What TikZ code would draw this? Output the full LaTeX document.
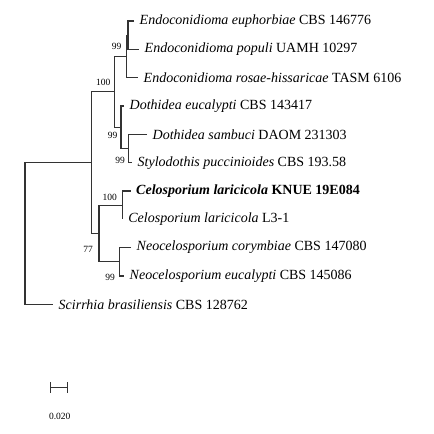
\documentclass[tikz,border=0pt]{standalone}
\usepackage{fontspec}
\setmainfont{Liberation Serif}
\begin{document}
\begin{tikzpicture}[x=1pt,y=-1pt,
  branch/.style={draw=black!80,line width=1.1pt},
  leaf/.style={anchor=west,inner xsep=5.5pt,inner ysep=0pt,font=\fontsize{14pt}{16pt}\selectfont},
  boot/.style={anchor=east,inner sep=0pt,font=\fontsize{9.5pt}{10pt}\selectfont}]
\useasboundingbox (0,0) rectangle (434,434);
% tips
\coordinate (tEuph) at (134,21);
\coordinate (tPop)  at (139,49.3);
\coordinate (tRos)  at (138,77.3);
\coordinate (tDeuc) at (124,106);
\coordinate (tSamb) at (147,134.3);
\coordinate (tPucc) at (132,162.7);
\coordinate (tKnue) at (130.5,191);
\coordinate (tL31)  at (122.7,219.3);
\coordinate (tCory) at (131,247.6);
\coordinate (tNeuc) at (124,276);
\coordinate (tScir) at (53,304.8);
% internal nodes
\coordinate (nE1) at (128,35.15);
\coordinate (nE2) at (126.7,56.4);
\coordinate (nS)  at (128.3,148.5);
\coordinate (nD)  at (121,127.25);
\coordinate (nA)  at (114.5,91.8);
\coordinate (nC)  at (122.7,205.15);
\coordinate (nN)  at (119.3,261.8);
\coordinate (nB)  at (99,233.5);
\coordinate (nI)  at (91.3,162.6);
\coordinate (nR)  at (25,233.7);
% leaf labels
\node[leaf] (lEuph) at (tEuph) {\textit{Endoconidioma euphorbiae} CBS 146776};
\node[leaf] (lPop)  at (tPop)  {\textit{Endoconidioma populi} UAMH 10297};
\node[leaf] (lRos)  at (tRos)  {\textit{Endoconidioma rosae-hissaricae} TASM 6106};
\node[leaf] (lDeuc) at (tDeuc) {\textit{Dothidea eucalypti} CBS 143417};
\node[leaf] (lSamb) at (tSamb) {\textit{Dothidea sambuci} DAOM 231303};
\node[leaf] (lPucc) at (tPucc) {\textit{Stylodothis puccinioides} CBS 193.58};
\node[leaf] (lKnue) at (tKnue) {\textbf{\textit{Celosporium laricicola} KNUE 19E084}};
\node[leaf] (lL31)  at (tL31)  {\textit{Celosporium laricicola} L3-1};
\node[leaf] (lCory) at (tCory) {\textit{Neocelosporium corymbiae} CBS 147080};
\node[leaf] (lNeuc) at (tNeuc) {\textit{Neocelosporium eucalypti} CBS 145086};
\node[leaf] (lScir) at (tScir) {\textit{Scirrhia brasiliensis} CBS 128762};
% branches
\draw[branch] (tEuph) -| (nE1) |- (tPop);
\draw[branch] (nE1) -| (nE2) |- (tRos);
\draw[branch] (tSamb) -| (nS) |- (tPucc);
\draw[branch] (tDeuc) -| (nD) |- (nS);
\draw[branch] (nE2) -| (nA) |- (nD);
\draw[branch] (tKnue) -| (nC) |- (tL31);
\draw[branch] (tCory) -| (nN) |- (tNeuc);
\draw[branch] (nC) -| (nB) |- (nN);
\draw[branch] (nA) -| (nI) |- (nB);
\draw[branch] (nI) -| (nR) |- (tScir);
% bootstrap values
\node[boot] (b1) at (121.5,46) {99};
\node[boot] (b2) at (110.5,82) {100};
\node[boot] (b3) at (117.5,135) {99};
\node[boot] (b4) at (125,160) {99};
\node[boot] (b5) at (117,197.5) {100};
\node[boot] (b6) at (93,249.5) {77};
\node[boot] (b7) at (115,277.5) {99};
% scale bar
\coordinate (sA) at (50.5,387);
\coordinate (sB) at (67,387);
\draw[draw=black!80,line width=1pt] (sA) -- (sB);
\draw[draw=black!80,line width=1pt] ([yshift=-5.5pt]sA) -- ([yshift=5.5pt]sA);
\draw[draw=black!80,line width=1pt] ([yshift=-5.5pt]sB) -- ([yshift=5.5pt]sB);
\node[font=\fontsize{9.5pt}{10pt}\selectfont,inner sep=0pt] (sL) at (59.8,416) {0.020};
\end{tikzpicture}
\end{document}
